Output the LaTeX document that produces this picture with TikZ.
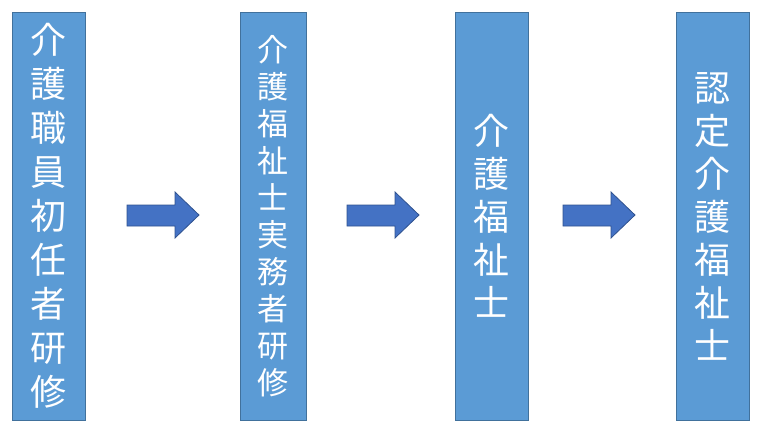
\documentclass[tikz,border=0pt]{standalone}
\usepackage{fontspec}
\newfontfamily\cjk{Noto Sans CJK JP}
\tikzset{box/.style={draw=boxline,fill=boxfill,line width=0.8pt,text=white,align=center,inner sep=0pt},
arr/.style={draw=arrline,fill=arrfill,line width=0.8pt}}
\definecolor{boxfill}{HTML}{5B9BD5}
\definecolor{boxline}{HTML}{41719C}
\definecolor{arrfill}{HTML}{4472C4}
\definecolor{arrline}{HTML}{2F528F}
\newcommand{\arrowshape}[1]{\draw[arr] (#1,205)--(#1+48,205)--(#1+48,192)--(#1+72,215)--(#1+48,238)--(#1+48,226)--(#1,226)--cycle;}
\begin{document}
\begin{tikzpicture}[x=1pt,y=-1pt]
\useasboundingbox (0,0) rectangle (759,429);
\draw[box] (12,12) rectangle (85,420);
\node[text=white,align=center,font=\cjk\fontsize{36}{44}\selectfont] (a) at (48.5,216) {介\\護\\職\\員\\初\\任\\者\\研\\修};
\draw[box] (240,12) rectangle (306,420);
\node[text=white,align=center,font=\cjk\fontsize{31}{37}\selectfont] (b) at (273,216) {介\\護\\福\\祉\\士\\実\\務\\者\\研\\修};
\draw[box] (455,12) rectangle (528,420);
\node[text=white,align=center,font=\cjk\fontsize{36}{43}\selectfont] (c) at (491.5,216) {介\\護\\福\\祉\\士};
\draw[box] (676,12) rectangle (749,420);
\node[text=white,align=center,font=\cjk\fontsize{36}{43}\selectfont] (d) at (712.5,216) {認\\定\\介\\護\\福\\祉\\士};
\arrowshape{127}
\arrowshape{347}
\arrowshape{563}
\end{tikzpicture}
\end{document}
